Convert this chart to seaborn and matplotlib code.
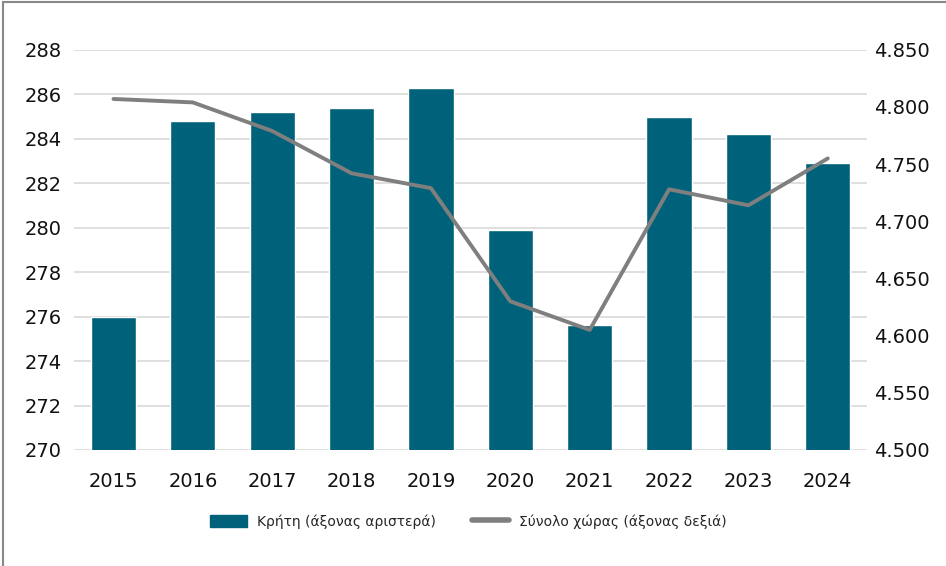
import matplotlib
matplotlib.use("Agg")
import matplotlib.pyplot as plt
import matplotlib.ticker as mticker
from matplotlib.lines import Line2D
from matplotlib.patches import Patch
import seaborn as sns
import pandas as pd
import numpy as np

years = ["2015", "2016", "2017", "2018", "2019", "2020", "2021", "2022", "2023", "2024"]
crete = [276.0, 284.8, 285.2, 285.4, 286.3, 279.9, 275.6, 285.0, 284.2, 282.9]
country = [4807, 4804, 4779, 4742, 4729, 4630, 4605, 4728, 4714, 4755]

bar_label = "Κρήτη (άξονας αριστερά)"
line_label = "Σύνολο χώρας (άξονας δεξιά)"

bar_color = "#00627a"
line_color = "#7f7f7f"

df = pd.DataFrame({"year": years, "crete": crete, "country": country})
df["pos"] = np.arange(len(df))

sns.set_style("white")
plt.rcParams["font.family"] = ["DejaVu Sans"]

fig = plt.figure(figsize=(9.46, 5.66), dpi=100)
ax = fig.add_axes([0.078, 0.205, 0.839, 0.707])

sns.barplot(data=df, x="year", y="crete", color=bar_color, saturation=1,
            width=0.57, ax=ax)
ax.set_ylim(270, 288)
ax.set_yticks(np.arange(270, 289, 2))
ax.set_axisbelow(True)
ax.yaxis.grid(True, color="#d9d9d9", linewidth=1.2)
ax.set_xlabel("")
ax.set_ylabel("")
ax.tick_params(axis="both", length=0, labelsize=14, colors="#111111")
ax.tick_params(axis="y", pad=9)
ax.tick_params(axis="x", pad=16)

ax2 = ax.twinx()
sns.lineplot(data=df, x="pos", y="country", color=line_color, linewidth=2.8, ax=ax2)
ax2.set_ylim(4500, 4850)
ax2.set_yticks(np.arange(4500, 4851, 50))
ax2.yaxis.set_major_formatter(mticker.FuncFormatter(lambda v, p: f"{v:,.0f}".replace(",", ".")))
ax2.set_xlabel("")
ax2.set_ylabel("")
ax2.tick_params(axis="y", length=0, labelsize=14, colors="#111111", pad=5)
ax.set_xlim(-0.5, len(years) - 0.5)

for a in (ax, ax2):
    for s in a.spines.values():
        s.set_visible(False)

handles = [Patch(facecolor=bar_color, edgecolor=bar_color),
           Line2D([0], [0], color=line_color, linewidth=4, solid_capstyle="round")]
fig.legend(handles, [bar_label, line_label], loc="center", ncol=2,
           bbox_to_anchor=(0.495, 0.079), frameon=False, fontsize=10,
           handlelength=2.7, handleheight=1.0, columnspacing=2.6, handletextpad=0.7)

# frame edges of the original picture
fig.add_artist(Line2D([0.003, 0.003], [0, 0.997], color="#888888", linewidth=1.5))
fig.add_artist(Line2D([0.003, 1], [0.996, 0.996], color="#888888", linewidth=1.5))

fig.savefig("out.png", dpi=100)
